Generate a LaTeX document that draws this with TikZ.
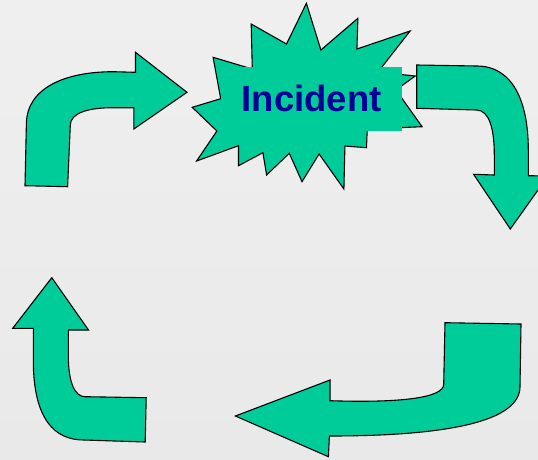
\documentclass[tikz,border=0pt]{standalone}
\usepackage{fontspec}
\setmainfont{Liberation Sans}
\usepackage{tikz}
\definecolor{burstGreen}{RGB}{0, 204, 153}
\definecolor{labelBlue}{RGB}{0, 0, 153}
\definecolor{bgTop}{RGB}{239, 239, 239}
\definecolor{bgMid}{RGB}{246, 246, 246}
\definecolor{bgBottom}{RGB}{233, 233, 233}

\begin{document}
\begin{tikzpicture}[
    x=1pt, y=-1pt,
    bentarrow/.style={fill=burstGreen, draw=black, line width=1.1pt, line join=miter},
    burst/.style={fill=burstGreen, draw=black, line width=1.1pt, line join=miter},
    tag/.style={fill=burstGreen, text=labelBlue, font=\fontsize{36.5}{40}\selectfont\bfseries, minimum width=181pt, minimum height=64pt, inner sep=0pt}
]
    % Background slide
    \shade[top color=bgTop, middle color=bgMid, bottom color=bgBottom] (0,0) rectangle (538,459);
    \useasboundingbox (0,0) rectangle (538,459);
    \clip (0,0) rectangle (538,459);

    % Starburst behind the label
    \draw[burst] (306.4,3.3) -- (320.9,50) -- (357.9,18.3) -- (356.9,49) -- (410.1,31)
        -- (378,72) -- (415.2,76) -- (396,90) -- (422.1,126.7) -- (367.2,129)
        -- (366.5,147.7) -- (344.9,146) -- (343.9,189) -- (319.1,154) -- (302,181.7)
        -- (289.3,153.3) -- (266.6,175) -- (262.9,152.7) -- (238.5,165.7) -- (238.5,145.7)
        -- (196.6,161) -- (216.9,131) -- (192.2,107.3) -- (220.7,98.7) -- (213.1,57.3)
        -- (252.3,69) -- (251.2,24) -- (286.5,44) -- cycle;
    \node[tag] (incident) at (311.75,98.7) {Incident};

    % Top-left arrow (pointing right)
    \draw[bentarrow] (25,185.7) -- (26.4,123.3)
        .. controls (27,88) and (65,71.7) .. (113.2,71.7) -- (135.5,72.3) -- (135.5,52.3)
        -- (187,92.3) -- (133.8,129) -- (133.8,107.7) -- (113.2,107.7)
        .. controls (88,107.7) and (70.5,113) .. (70.3,125) -- (67.6,186.7) -- cycle;

    % Top-right arrow (pointing down)
    \draw[bentarrow] (416.7,65) -- (476.7,66)
        .. controls (512,66) and (528.3,100) .. (528.3,150) -- (528.3,175.7) -- (548,176)
        -- (510.3,229) -- (473.6,174.3) -- (494.3,175) -- (494.3,155)
        .. controls (494.3,128) and (489,110.5) .. (476.7,110) -- (416.7,108.3) -- cycle;

    % Bottom-right arrow (pointing left)
    \draw[bentarrow] (445,322.7) -- (521,324) -- (520,386.7)
        .. controls (520,422) and (445,436) .. (329.4,436) -- (328.4,456.7)
        -- (235.4,416) -- (330,380) -- (330,400.7)
        .. controls (400,403) and (443.5,398) .. (443.7,384.3) -- cycle;

    % Bottom-left arrow (pointing up)
    \draw[bentarrow] (51.8,277.7) -- (88.5,330) -- (68.3,330) -- (68.3,355)
        .. controls (68.3,383) and (75,396.7) .. (85.1,396.7) -- (146.2,397.7) -- (145.2,442)
        -- (84,440) .. controls (55,440) and (33.3,420) .. (33.3,360) -- (33.3,328.3)
        -- (12.7,328.3) -- cycle;
\end{tikzpicture}
\end{document}
